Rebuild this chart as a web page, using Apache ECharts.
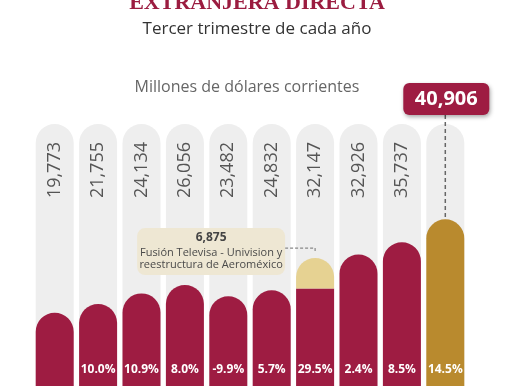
<!DOCTYPE html>
<html><head><meta charset="utf-8">
<script src="https://cdn.jsdelivr.net/npm/echarts@6/dist/echarts.min.js"></script>
<style>html,body{margin:0;padding:0;background:#fff;overflow:hidden;height:386px}#c{width:514px;height:400px}</style>
</head><body><div id="c"></div>
<script>
const categories = ['2016','2017','2018','2019','2020','2021','2022','2023','2024','2025'];
const values = [19773,21755,24134,26056,23482,24832,32147,32926,35737,40906];
const extraordinary = [null,null,null,null,null,null,6875,null,null,null];
const growth = ['','10.0%','10.9%','8.0%','-9.9%','5.7%','29.5%','2.4%','8.5%','14.5%'];
const axisMax = 62500;
const trackValues = categories.map(() => axisMax);

const CRIMSON = '#9e1c42', GOLD = '#b98a2e', LIGHT = '#e6d292', TRACK = '#eeeeee';
const fmt = v => v.toLocaleString('en-US');
const last = values.length - 1;

const chart = echarts.init(document.getElementById('c'));
const baseData = values.map((v, i) => {
  const item = { value: v - (extraordinary[i] || 0) };
  if (i === last) item.itemStyle = { color: GOLD };
  if (extraordinary[i]) item.itemStyle = { borderRadius: 0 };
  return item;
});
const extraData = extraordinary.map(v => v == null ? '-' : v);

const option = {
  animation: false,
  grid: { left: 33, right: 47, top: 124, bottom: 0 },
  xAxis: { type: 'category', data: categories, show: false },
  yAxis: { type: 'value', min: 0, max: axisMax, show: false },
  series: [
    {
      type: 'bar', data: trackValues, barWidth: 38, barGap: '-100%', silent: true, z: 1,
      itemStyle: { color: TRACK, borderRadius: [19,19,0,0] },
      label: {
        show: true, position: [19, 18], rotate: 90, align: 'right', verticalAlign: 'middle',
        formatter: p => p.dataIndex === last ? '' : fmt(values[p.dataIndex]),
        fontFamily: 'Open Sans', fontSize: 18, color: '#555'
      }
    },
    {
      type: 'bar', stack: 'v', data: baseData, barWidth: 38, barGap: '-100%', z: 2,
      itemStyle: { color: CRIMSON, borderRadius: [19,19,0,0] },
      label: {
        show: true, position: 'insideBottom', distance: 24,
        formatter: p => growth[p.dataIndex],
        fontFamily: 'Open Sans', fontSize: 12, fontWeight: 'bold', color: '#fff'
      }
    },
    {
      type: 'bar', stack: 'v', data: extraData, barWidth: 38, barGap: '-100%', z: 2,
      itemStyle: { color: LIGHT, borderRadius: [19,19,0,0] }
    }
  ]
};
chart.setOption(option);

const px = (i, v) => chart.convertToPixel({ gridIndex: 0 }, [i, v]);
const pTop = px(last, values[last]);
const ei = extraordinary.findIndex(v => v != null);
const pE = px(ei, values[ei]);

chart.setOption({
  graphic: [
    { type: 'text', left: 'center', top: -8, style: { text: 'EXTRANJERA DIRECTA', font: 'bold 22px "Liberation Serif"', fill: '#9b1c40' } },
    { type: 'text', x: 257, y: 29, style: { text: 'Tercer trimestre de cada año', font: '17px "Open Sans"', fill: '#333', align: 'center', verticalAlign: 'middle' } },
    { type: 'text', x: 247, y: 87, style: { text: 'Millones de dólares corrientes', font: '16px "Open Sans"', fill: '#666', align: 'center', verticalAlign: 'middle' } },
    { type: 'line', z: 10, shape: { x1: pTop[0], y1: 115, x2: pTop[0], y2: pTop[1] }, style: { stroke: '#666', lineWidth: 1.5, lineDash: [4, 3] } },
    { type: 'rect', z: 11, shape: { x: pTop[0] - 42, y: 83, width: 86, height: 32, r: 6 },
      style: { fill: CRIMSON, shadowBlur: 4, shadowOffsetX: 1, shadowOffsetY: 2, shadowColor: 'rgba(0,0,0,0.35)' } },
    { type: 'text', z: 12, x: pTop[0] + 1, y: 99, style: { text: fmt(values[last]), font: 'bold 20px "Open Sans"', fill: '#fff', align: 'center', verticalAlign: 'middle' } },
    { type: 'polyline', z: 10, shape: { points: [[pE[0] - 30, pE[1] - 10], [pE[0], pE[1] - 10], [pE[0], pE[1] - 5]] }, style: { stroke: '#888', lineWidth: 1.2, lineDash: [3, 2], fill: null } },
    { type: 'rect', z: 11, shape: { x: pE[0] - 178, y: pE[1] - 30, width: 148, height: 47, r: 8 }, style: { fill: '#eee7d3' } },
    { type: 'text', z: 12, x: pE[0] - 104, y: pE[1] - 20, style: { text: fmt(extraordinary[ei]), font: 'bold 12px "Open Sans"', fill: '#444', align: 'center', verticalAlign: 'middle' } },
    { type: 'text', z: 12, x: pE[0] - 104, y: pE[1] - 5, style: { text: 'Fusión Televisa - Univision y', font: '11px "Open Sans"', fill: '#4a4a4a', align: 'center', verticalAlign: 'middle' } },
    { type: 'text', z: 12, x: pE[0] - 104, y: pE[1] + 7, style: { text: 'reestructura de Aeroméxico', font: '11px "Open Sans"', fill: '#4a4a4a', align: 'center', verticalAlign: 'middle' } }
  ]
});
</script></body></html>
